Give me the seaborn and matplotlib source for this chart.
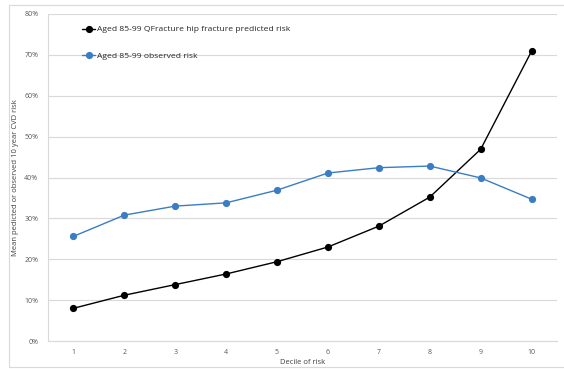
import matplotlib
matplotlib.use("Agg")
import matplotlib.pyplot as plt
import seaborn as sns
import pandas as pd
from matplotlib.patches import Rectangle
from matplotlib.ticker import PercentFormatter

# values
deciles = [1, 2, 3, 4, 5, 6, 7, 8, 9, 10]
predicted = [8.0, 11.2, 13.8, 16.4, 19.4, 23.0, 28.1, 35.2, 46.9, 70.9]
observed = [25.6, 30.8, 33.0, 33.8, 36.9, 41.1, 42.4, 42.8, 39.9, 34.7]
series_names = ["Aged 85-99 QFracture hip fracture predicted risk",
                "Aged 85-99 observed risk"]
colors = ["#000000", "#3a7dc4"]

df = pd.DataFrame({
    "decile": deciles * 2,
    "risk": predicted + observed,
    "series": [series_names[0]] * len(deciles) + [series_names[1]] * len(deciles),
})

sns.set_style("white")
plt.rcParams["font.family"] = ["Open Sans", "DejaVu Sans"]

fig = plt.figure(figsize=(5.64, 3.69), dpi=100)
# light outer chart frame
fig.patches.append(Rectangle((9 / 564, 2 / 369), 1.2, 362 / 369, transform=fig.transFigure,
                             fill=False, edgecolor="#d9d9d9", linewidth=0.8))
ax = fig.add_axes([48 / 564, 28 / 369, 509 / 564, 327 / 369])

sns.lineplot(data=df, x="decile", y="risk", hue="series", palette=colors,
             marker="o", markersize=5.2, markeredgewidth=0, linewidth=1.0, ax=ax)

ax.set_xlim(0.5, 10.5)
ax.set_ylim(0, 80)
ax.set_xticks(deciles)
ax.set_yticks(range(0, 81, 10))
ax.yaxis.set_major_formatter(PercentFormatter(decimals=0))
ax.tick_params(axis="both", labelsize=5, colors="#595959", length=0)
ax.tick_params(axis="x", pad=6)
ax.tick_params(axis="y", pad=7)
ax.grid(axis="y", color="#d9d9d9", linewidth=0.8)
ax.set_axisbelow(True)
for side in ["top", "right"]:
    ax.spines[side].set_visible(False)
ax.spines["left"].set_color("#d9d9d9")
ax.spines["bottom"].set_color("#d9d9d9")
ax.spines["left"].set_linewidth(0.8)
ax.spines["bottom"].set_linewidth(0.8)

ax.set_xlabel("Decile of risk", fontsize=5.5, color="#404040", labelpad=2)
ax.set_ylabel("Mean pedicted or observed 10 year CVD risk", fontsize=5.5,
              color="#404040", labelpad=4)

leg = ax.legend(loc="upper left", bbox_to_anchor=(0.06, 0.975), frameon=False,
                fontsize=6.1, handlelength=1.6, handletextpad=0.15,
                labelspacing=2.15, borderaxespad=0)
for t in leg.get_texts():
    t.set_color("#262626")

fig.savefig("out.png", dpi=100)
